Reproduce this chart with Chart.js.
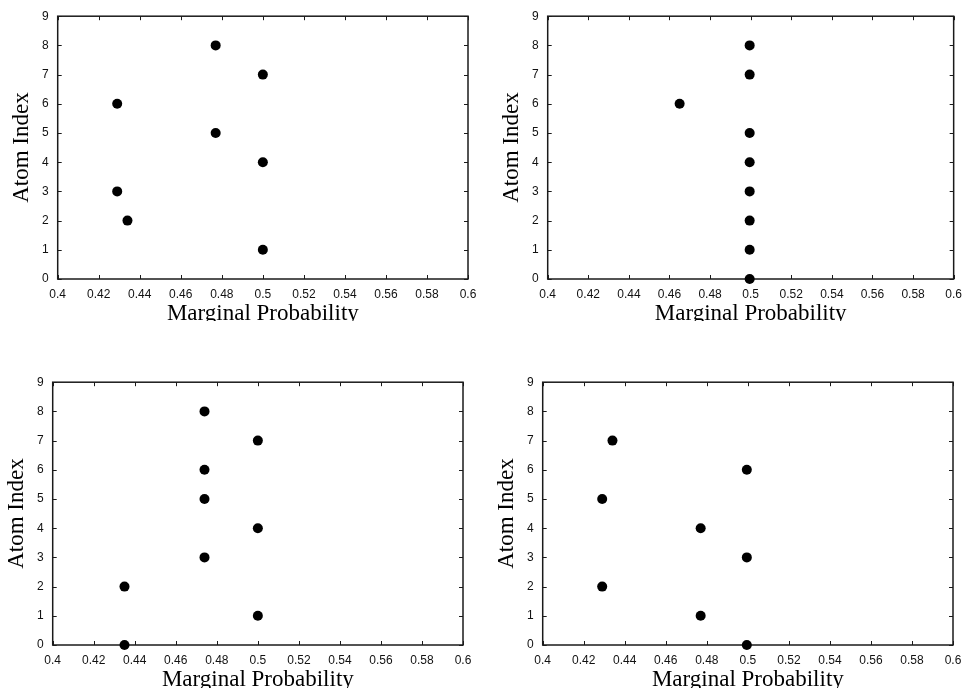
<!DOCTYPE html>
<html>
<head>
<meta charset="utf-8">
<title>Atom Index vs Marginal Probability</title>
<script src="https://cdn.jsdelivr.net/npm/chart.js"></script>
<style>
  body {
    margin: 0;
    width: 970px;
    height: 688px;
    position: relative;
    overflow: hidden;
    background: #fff;
  }
  .panel {
    position: absolute;
    overflow: hidden;
  }
  .panel canvas {
    display: block;
  }
</style>
</head>
<body>
<div class="panel" id="p1" style="left:0px;top:0px;width:485px;height:321px"><canvas id="c1" width="485" height="340"></canvas></div>
<div class="panel" id="p2" style="left:490px;top:0px;width:480px;height:321px"><canvas id="c2" width="480" height="340"></canvas></div>
<div class="panel" id="p3" style="left:-5.4px;top:365.5px;width:485px;height:323px"><canvas id="c3" width="485" height="340"></canvas></div>
<div class="panel" id="p4" style="left:485px;top:365.5px;width:485px;height:323px"><canvas id="c4" width="485" height="340"></canvas></div>
<script>
// atom index for every row
const atomIndex = [0, 1, 2, 3, 4, 5, 6, 7, 8];

// marginal probability of each atom (null = not plotted)
const probA = [null, 0.5, 0.434, 0.429, 0.5, 0.477, 0.429, 0.5, 0.477];
const probB = [0.4995, 0.4995, 0.4995, 0.4995, 0.4995, 0.4995, 0.465, 0.4995, 0.4995];
const probC = [0.435, 0.5, 0.435, 0.474, 0.5, 0.474, 0.474, 0.5, 0.474];
const probD = [0.4995, 0.477, 0.429, 0.4995, 0.477, 0.429, 0.4995, 0.434, null];

const xMin = 0.4, xMax = 0.6, xStep = 0.02;
const yMin = 0, yMax = 9, yStep = 1;

const xTitle = 'Marginal Probability';
const yTitle = 'Atom Index';

// gnuplot-like frame with inward ticks on all four sides
const framePlugin = {
  id: 'frame',
  beforeDatasetsDraw(chart) {
    const {ctx, chartArea: a, scales: {x, y}} = chart;
    const tl = 4;
    ctx.save();
    ctx.strokeStyle = '#1a1a1a';
    ctx.lineWidth = 1.5;
    ctx.strokeRect(a.left, a.top, a.right - a.left, a.bottom - a.top);
    ctx.lineWidth = 1;
    ctx.beginPath();
    x.ticks.forEach(t => {
      const px = Math.round(x.getPixelForValue(t.value)) + 0.5;
      ctx.moveTo(px, a.bottom); ctx.lineTo(px, a.bottom - tl);
      ctx.moveTo(px, a.top); ctx.lineTo(px, a.top + tl);
    });
    y.ticks.forEach(t => {
      const py = Math.round(y.getPixelForValue(t.value)) + 0.5;
      ctx.moveTo(a.left, py); ctx.lineTo(a.left + tl, py);
      ctx.moveTo(a.right, py); ctx.lineTo(a.right - tl, py);
    });
    ctx.stroke();
    ctx.restore();
  }
};

function makePanel(id, probs) {
  const pts = [];
  probs.forEach((p, i) => {
    if (p !== null) pts.push({x: p, y: atomIndex[i]});
  });
  const canvas = document.getElementById(id);
  const rightPad = canvas.width - 468;
  return new Chart(canvas, {
    type: 'scatter',
    data: {
      datasets: [{
        data: pts,
        pointRadius: 5,
        pointHoverRadius: 5,
        pointBackgroundColor: '#000',
        pointBorderWidth: 0,
        clip: false
      }]
    },
    options: {
      responsive: false,
      animation: false,
      devicePixelRatio: 1,
      layout: {padding: {left: 0, right: rightPad, top: 12, bottom: 0}},
      plugins: {legend: {display: false}, tooltip: {enabled: false}},
      scales: {
        x: {
          type: 'linear',
          min: xMin, max: xMax,
          grid: {display: false, drawTicks: false},
          border: {display: false},
          ticks: {
            stepSize: xStep,
            padding: 8,
            maxRotation: 0,
            autoSkip: false,
            color: '#111',
            font: {family: '"Liberation Sans", Arial, sans-serif', size: 12},
            callback: v => String(+v.toFixed(2))
          },
          title: {
            display: true,
            text: xTitle,
            color: '#000',
            font: {family: '"Liberation Serif", "Times New Roman", serif', size: 23, lineHeight: 1.2},
            padding: {top: 0, bottom: 12}
          },
          afterFit(scale) { scale.height = 61; }
        },
        y: {
          type: 'linear',
          min: yMin, max: yMax,
          grid: {display: false, drawTicks: false},
          border: {display: false},
          ticks: {
            stepSize: yStep,
            padding: 9,
            color: '#111',
            font: {family: '"Liberation Sans", Arial, sans-serif', size: 12}
          },
          title: {
            display: true,
            text: yTitle,
            color: '#000',
            font: {family: '"Liberation Serif", "Times New Roman", serif', size: 23, lineHeight: 1.2},
            padding: {top: 8, bottom: 0}
          },
          afterFit(scale) { scale.width = 57.7; }
        }
      }
    },
    plugins: [framePlugin]
  });
}

makePanel('c1', probA);
makePanel('c2', probB);
makePanel('c3', probC);
makePanel('c4', probD);
</script>
</body>
</html>
